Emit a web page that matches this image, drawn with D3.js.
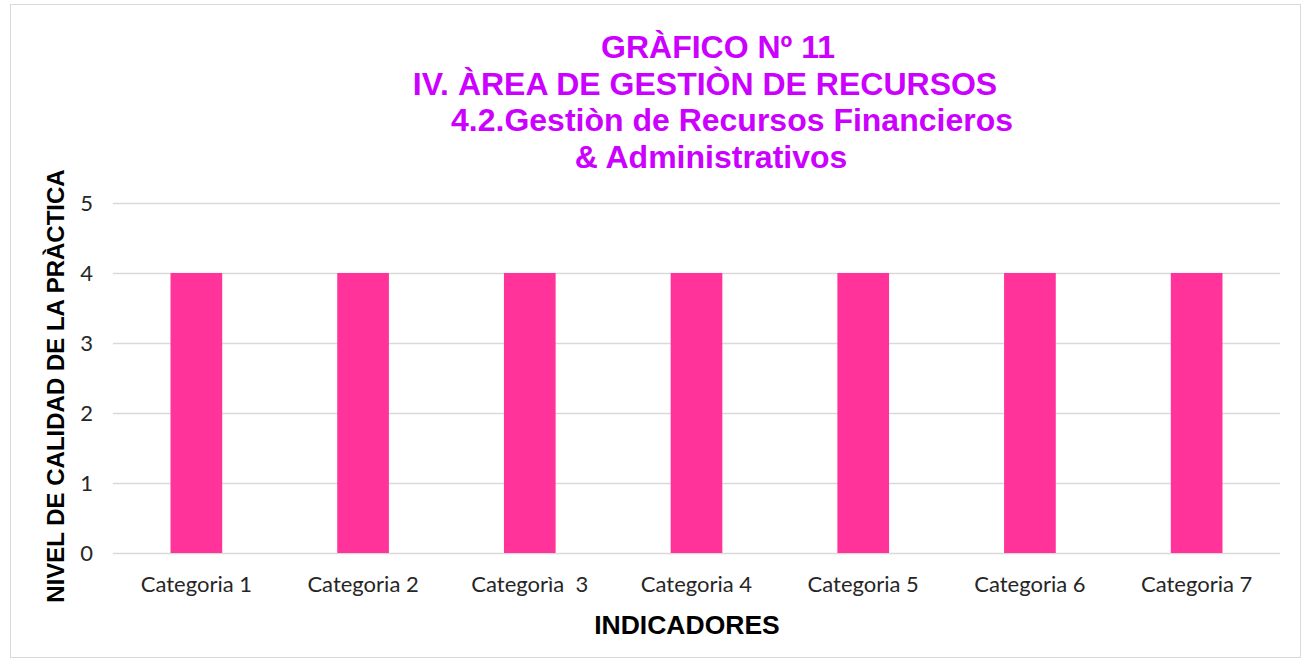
<!DOCTYPE html>
<html>
<head>
<meta charset="utf-8">
<script src="https://cdn.jsdelivr.net/npm/d3@7"></script>
<style>
  body { margin: 0; background: #fff; }
  svg { display: block; }
</style>
</head>
<body>
<svg id="chart" width="1309" height="661"></svg>
<script>
const categories = ["Categoria 1", "Categoria 2", "Categorìa  3", "Categoria 4", "Categoria 5", "Categoria 6", "Categoria 7"];
const values = [4, 4, 4, 4, 4, 4, 4];
const yTicks = [0, 1, 2, 3, 4, 5];
const titleLines = ["GRÀFICO Nº 11", "IV. ÀREA DE GESTIÒN DE RECURSOS", "4.2.Gestiòn de Recursos Financieros", "& Administrativos"];

const svg = d3.select("#chart");
const margin = { left: 113, right: 29, top: 203, bottom: 108 };
const W = 1309, H = 661;

// outer chart border
svg.append("rect")
  .attr("x", 10.5).attr("y", 4.5)
  .attr("width", 1290).attr("height", 653)
  .attr("fill", "#fff").attr("stroke", "#d9d9d9");

const x = d3.scaleBand()
  .domain(categories)
  .range([margin.left, W - margin.right])
  .paddingInner(0.69).paddingOuter(0.345);

const y = d3.scaleLinear().domain([0, 5]).range([H - margin.bottom, margin.top]);

// gridlines
svg.append("g")
  .selectAll("line")
  .data(yTicks)
  .join("line")
  .attr("x1", margin.left).attr("x2", W - margin.right)
  .attr("y1", d => Math.round(y(d)) + 0.5).attr("y2", d => Math.round(y(d)) + 0.5)
  .attr("stroke", "#d9d9d9").attr("stroke-width", 1.5);

// bars
svg.append("g")
  .selectAll("rect")
  .data(values)
  .join("rect")
  .attr("x", (d, i) => x(categories[i]))
  .attr("width", x.bandwidth())
  .attr("y", d => y(d))
  .attr("height", d => y(0) - y(d))
  .attr("fill", "#ff3399");

// y tick labels
svg.append("g")
  .selectAll("text")
  .data(yTicks)
  .join("text")
  .attr("x", 93).attr("y", d => y(d) + 8)
  .attr("text-anchor", "end")
  .attr("font-family", "Lato, 'Open Sans', sans-serif")
  .attr("font-size", 22).attr("fill", "#262626")
  .text(d => d);

// category labels
svg.append("g")
  .selectAll("text")
  .data(categories)
  .join("text")
  .attr("x", d => x(d) + x.bandwidth() / 2)
  .attr("y", 592)
  .attr("text-anchor", "middle")
  .attr("font-family", "Lato, 'Open Sans', sans-serif")
  .attr("font-size", 22).attr("fill", "#262626")
  .style("white-space", "pre")
  .text(d => d);

// title
const titleX = [718, 705, 732, 711];
svg.append("g")
  .selectAll("text")
  .data(titleLines)
  .join("text")
  .attr("x", (d, i) => titleX[i])
  .attr("y", (d, i) => 58 + i * 36.7)
  .attr("text-anchor", "middle")
  .attr("font-family", "'Liberation Sans', Arial, sans-serif")
  .attr("font-weight", "bold")
  .attr("font-size", 32)
  .attr("fill", "#cc00ff")
  .text(d => d);

// axis titles
svg.append("text")
  .attr("x", 687).attr("y", 634)
  .attr("text-anchor", "middle")
  .attr("font-family", "'Liberation Sans', Arial, sans-serif")
  .attr("font-weight", "bold").attr("font-size", 26.5)
  .attr("fill", "#000")
  .text("INDICADORES");

svg.append("text")
  .attr("transform", "translate(64,386) rotate(-90)")
  .attr("text-anchor", "middle")
  .attr("font-family", "'Liberation Sans', Arial, sans-serif")
  .attr("font-weight", "bold").attr("font-size", 24)
  .attr("fill", "#000")
  .text("NIVEL DE CALIDAD DE LA PRÀCTICA");
</script>
</body>
</html>
